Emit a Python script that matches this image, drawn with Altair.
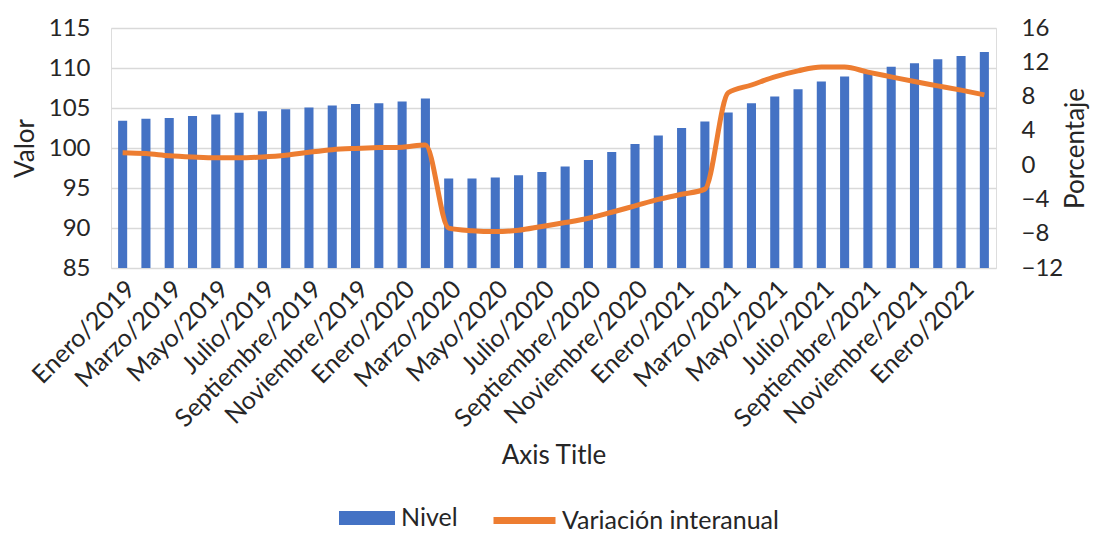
import altair as alt
import pandas as pd

meses = ["Enero", "Febrero", "Marzo", "Abril", "Mayo", "Junio", "Julio", "Agosto",
         "Septiembre", "Octubre", "Noviembre", "Diciembre"]
anios = [2019, 2020, 2021, 2022]
periodos = [f"{m}/{a}" for a in anios for m in meses][:38]

nivel = [103.4, 103.65, 103.75, 104.0, 104.2, 104.4, 104.6, 104.85, 105.05, 105.3,
         105.5, 105.6, 105.8, 106.2, 96.2, 96.2, 96.3, 96.6, 97.0, 97.7,
         98.5, 99.5, 100.5, 101.55, 102.5, 103.3, 104.45, 105.6, 106.45, 107.35,
         108.3, 108.95, 109.6, 110.15, 110.6, 111.1, 111.5, 112.0]

variacion = [1.45, 1.35, 1.1, 0.95, 0.85, 0.85, 0.95, 1.15, 1.5, 1.8,
             1.95, 2.05, 2.1, 2.35, -7.35, -7.65, -7.75, -7.6, -7.15, -6.7,
             -6.2, -5.5, -4.75, -4.0, -3.4, -2.8, 8.45, 9.35, 10.3, 11.0,
             11.45, 11.45, 10.85, 10.3, 9.75, 9.25, 8.75, 8.2]

etiquetas = periodos[::2]

df = pd.DataFrame({
    "periodo": periodos,
    "nivel": nivel,
    "variacion": variacion,
    "s1": ["Nivel"] * len(periodos),
    "s2": ["Variación interanual"] * len(periodos),
})

FONT = "Lato"
TXT = "#262626"

x = alt.X(
    "periodo:N",
    sort=periodos,
    scale=alt.Scale(paddingInner=0.61, paddingOuter=0.305),
    axis=alt.Axis(
        values=etiquetas, labelAngle=-45, labelFontSize=25, labelColor=TXT,
        labelFont=FONT, ticks=False, domain=False, labelPadding=8,
        labelLimit=300,
        title="Axis Title", titleFontSize=26, titleFont=FONT, titleColor=TXT,
        titleFontWeight="normal", titleY=174,
    ),
)

bars = alt.Chart(df).mark_bar(color="#4472C4", clip=True).encode(
    x=x,
    y=alt.Y(
        "nivel:Q",
        scale=alt.Scale(domain=[85, 115], zero=False, nice=False),
        axis=alt.Axis(
            values=[85, 90, 95, 100, 105, 110, 115], title="Valor",
            labelFontSize=24, labelColor=TXT, labelFont=FONT, ticks=False,
            domain=False, labelPadding=21, gridColor="#D9D9D9", gridWidth=1.5,
            titleFontSize=26, titleFont=FONT, titleColor=TXT,
            titleFontWeight="normal", titlePadding=10,
        ),
    ),
    fill=alt.Fill(
        "s1:N",
        scale=alt.Scale(domain=["Nivel"], range=["#4472C4"]),
        legend=alt.Legend(
            title=None, orient="none", legendX=242, legendY=476,
            symbolType="M-2,-0.5H2V0.5H-2Z", symbolSize=784, symbolStrokeWidth=0,
            labelFontSize=25, labelFont=FONT, labelColor=TXT, labelLimit=400,
            labelOffset=20, padding=0,
        ),
    ),
)

line = alt.Chart(df).mark_line(
    color="#ED7D31", strokeWidth=5, interpolate="monotone"
).encode(
    x=alt.X("periodo:N", sort=periodos),
    y=alt.Y(
        "variacion:Q",
        scale=alt.Scale(domain=[-12, 16], nice=False, zero=False),
        axis=alt.Axis(
            orient="right", values=[-12, -8, -4, 0, 4, 8, 12, 16],
            title="Porcentaje", grid=False, labelFontSize=24, labelColor=TXT,
            labelFont=FONT, ticks=False, domain=False, labelPadding=25,
            titleFontSize=26, titleFont=FONT, titleColor=TXT, titleAngle=270,
            titleFontWeight="normal", titlePadding=26,
        ),
    ),
    stroke=alt.Stroke(
        "s2:N",
        scale=alt.Scale(domain=["Variación interanual"], range=["#ED7D31"]),
        legend=alt.Legend(
            title=None, orient="none", legendX=379, legendY=458,
            symbolType="stroke", symbolSize=3844, symbolStrokeWidth=7,
            labelFontSize=25, labelFont=FONT, labelColor=TXT, labelLimit=400,
            labelOffset=3, padding=0,
        ),
    ),
)

chart = alt.layer(bars, line).resolve_scale(
    y="independent", fill="independent", stroke="independent"
).properties(
    width=885, height=240,
    autosize=alt.AutoSizeParams(type="none"),
    padding={"left": 103, "top": 20, "right": 96, "bottom": 265},
).configure_view(strokeWidth=0).configure(background="white")

chart.save("out.html", embed_options={"renderer": "svg", "actions": False})
